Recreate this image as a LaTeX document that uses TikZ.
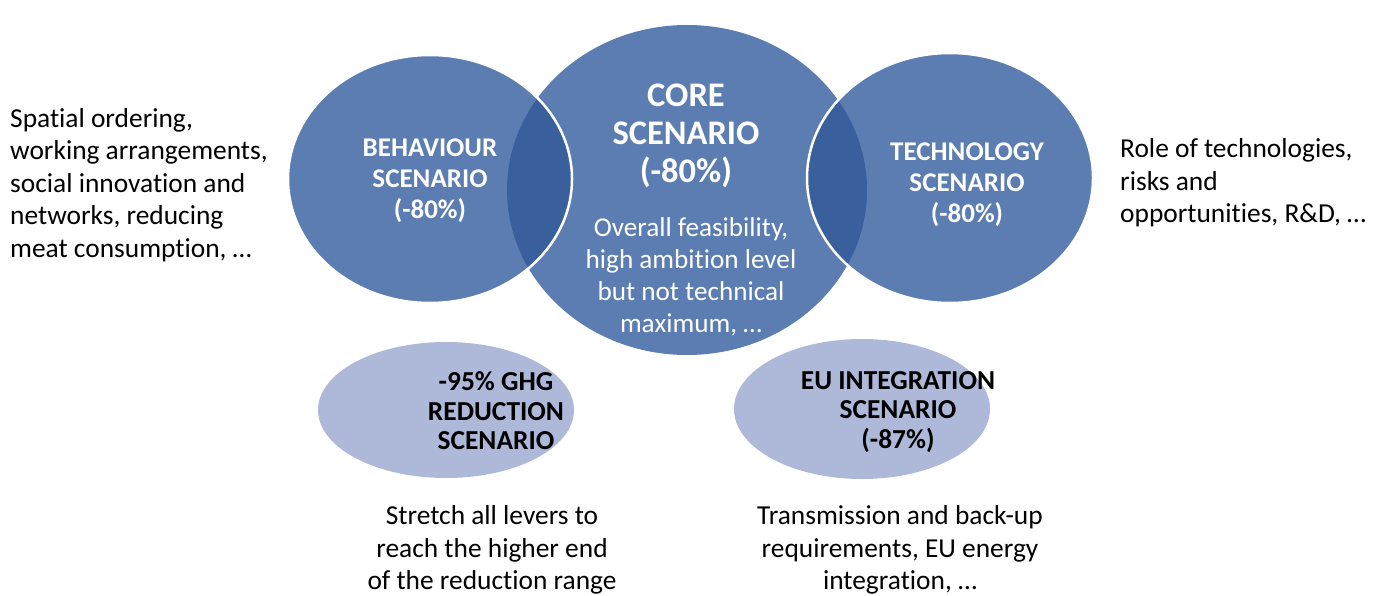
\documentclass[tikz,border=0pt]{standalone}
\usepackage{fontspec}
\setmainfont{Carlito}[Ligatures=NoCommon]
\definecolor{vennblue}{HTML}{5B7DB1}
\definecolor{lensblue}{HTML}{3A5F9D}
\definecolor{paleblue}{HTML}{AEB9DA}
\begin{document}
\begin{tikzpicture}[x=1pt,y=-1pt,
  plain/.style={inner sep=0pt, font=\fontsize{27.4}{32.5}\selectfont},
  sidehead/.style={inner sep=0pt, align=center, text=white, font=\bfseries\fontsize{27}{31}\selectfont},
  corehead/.style={inner sep=0pt, align=center, text=white, font=\bfseries\fontsize{34.5}{38}\selectfont},
  corebody/.style={inner sep=0pt, align=center, text=white, font=\fontsize{27.2}{32}\selectfont},
  palehead/.style={inner sep=0pt, align=center, text=black, font=\bfseries\fontsize{27.4}{29.5}\selectfont},
  rim/.style={draw=white, line width=2.5pt}]
\fill[white] (0,0) rectangle (1378,596);
\useasboundingbox (0,0) rectangle (1378,596);

% centres of the scenario shapes
\coordinate (core) at (687,190);
\coordinate (beh) at (430,179);
\coordinate (tech) at (950,178);
\coordinate (ghg) at (446,410);
\coordinate (eu) at (862,409);

% main three-way Venn
\fill[vennblue] (core) ellipse [x radius=180, y radius=165];
\fill[vennblue] (beh) ellipse [x radius=142, y radius=124];
\fill[vennblue] (tech) ellipse [x radius=143, y radius=125];
\begin{scope}
  \clip (beh) ellipse [x radius=142, y radius=124];
  \fill[lensblue] (core) ellipse [x radius=180, y radius=165];
\end{scope}
\begin{scope}
  \clip (tech) ellipse [x radius=143, y radius=125];
  \fill[lensblue] (core) ellipse [x radius=180, y radius=165];
\end{scope}
\draw[rim] (beh) ellipse [x radius=142, y radius=124];
\draw[rim] (tech) ellipse [x radius=143, y radius=125];

% variant scenarios
\fill[paleblue] (ghg) ellipse [x radius=128, y radius=68];
\fill[paleblue] (eu) ellipse [x radius=128, y radius=70];

% labels inside the shapes
\node[sidehead] (behlabel) at (430,181) {BEHAVIOUR\\SCENARIO\\(-80\%)};
\node[corehead] (corelabel) at (686,136) {CORE\\SCENARIO\\(-80\%)};
\node[corebody] (corenote) at (691,277) {Overall feasibility,\\high ambition level\\but not technical\\maximum, …};
\node[sidehead] (techlabel) at (967,185) {TECHNOLOGY\\SCENARIO\\(-80\%)};
\node[palehead] (ghglabel) at (496,411) {-95\% GHG\\REDUCTION\\SCENARIO};
\node[palehead] (eulabel) at (898,412) {EU INTEGRATION\\SCENARIO\\(-87\%)};

% descriptions around the diagram
\node[plain, anchor=west, align=left] (behnote) at (10,185) {Spatial ordering,\\working arrangements,\\social innovation and\\networks, reducing\\meat consumption, …};
\node[plain, anchor=west, align=left] (technote) at (1120,183) {Role of technologies,\\risks and\\opportunities, R\&D, …};
\node[plain, align=center] (ghgnote) at (492,550) {Stretch all levers to\\reach the higher end\\of the reduction range};
\node[plain, align=center] (eunote) at (900,550) {Transmission and back-up\\requirements, EU energy\\integration, …};
\end{tikzpicture}
\end{document}
